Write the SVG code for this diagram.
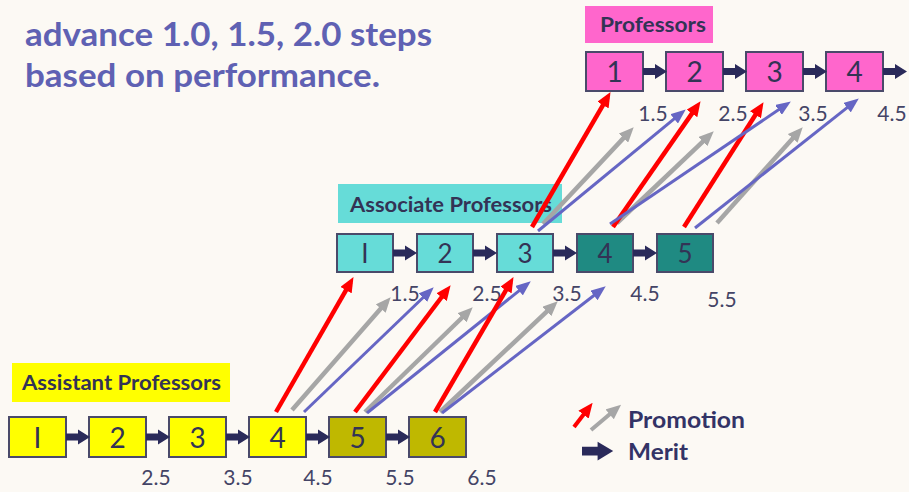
<svg xmlns="http://www.w3.org/2000/svg" width="909" height="492" viewBox="0 0 909 492">
<style>
.title{font-family:Lato,"Liberation Sans",sans-serif;font-weight:bold;font-size:33px;fill:#5f61b3}
.lbl{font-family:Lato,"Liberation Sans",sans-serif;font-weight:bold;font-size:20px;fill:#333355}
.box{stroke:#4a4a6a;stroke-width:2}
.num{font-family:Lato,"Liberation Sans",sans-serif;font-size:28px;fill:#333355;text-anchor:middle}
.num.m{font-size:26px}
.val{font-family:Lato,"Liberation Sans",sans-serif;font-size:21px;fill:#444466;text-anchor:middle}
.yel{fill:#ffff00}.oli{fill:#bfb800}.lt{fill:#66dcd8}.dt{fill:#1f8a82}.pk{fill:#ff66cc}
.red{stroke:#ff0000;stroke-width:4.5;fill:none;marker-end:url(#hr)}
.gry{stroke:#a6a6a6;stroke-width:4.5;fill:none;marker-end:url(#hg)}
.blu{stroke:#6666c4;stroke-width:3;fill:none;marker-end:url(#hb)}
.merit{fill:#2a2a5a}
.leg{font-family:Lato,"Liberation Sans",sans-serif;font-weight:bold;font-size:22px;fill:#333366}
</style>
<defs>
<marker id="hr" markerUnits="userSpaceOnUse" markerWidth="15" markerHeight="13" refX="9" refY="6.5" orient="auto"><path d="M0,0 L15,6.5 L0,13 Z" fill="#ff0000"/></marker>
<marker id="hg" markerUnits="userSpaceOnUse" markerWidth="15" markerHeight="13" refX="9" refY="6.5" orient="auto"><path d="M0,0 L15,6.5 L0,13 Z" fill="#a6a6a6"/></marker>
<marker id="hb" markerUnits="userSpaceOnUse" markerWidth="15" markerHeight="12" refX="9" refY="6" orient="auto"><path d="M0,0 L15,6 L0,12 Z" fill="#6666c4"/></marker>
<path id="ma" d="M0,-3.5 H12 V-7.5 L24,0 L12,7.5 V3.5 H0 Z"/>
</defs>
<rect width="909" height="492" fill="#fcf9f4"/>

<g id="title">
<text class="title" x="25" y="46" textLength="407" lengthAdjust="spacingAndGlyphs">advance 1.0, 1.5, 2.0 steps</text>
<text class="title" x="25" y="87" textLength="355" lengthAdjust="spacingAndGlyphs">based on performance.</text>
</g>

<g id="label-professors"><rect x="585" y="6" width="128" height="37" class="pk"/><text class="lbl" x="600" y="32" textLength="106" lengthAdjust="spacingAndGlyphs">Professors</text></g>
<g id="label-associate"><rect x="338" y="184" width="224" height="39" class="lt"/><text class="lbl" x="350" y="212" textLength="202" lengthAdjust="spacingAndGlyphs">Associate Professors</text></g>
<g id="label-assistant"><rect x="12" y="363" width="218" height="39" class="yel"/><text class="lbl" x="22" y="390" textLength="199" lengthAdjust="spacingAndGlyphs">Assistant Professors</text></g>

<!-- Professors row -->
<g id="p1"><rect x="586" y="52" width="57" height="39" class="box pk"/><text class="num" x="614.5" y="82">1</text></g>
<g id="p2"><rect x="666" y="52" width="57" height="39" class="box pk"/><text class="num" x="694.5" y="82">2</text></g>
<g id="p3"><rect x="746" y="52" width="57" height="39" class="box pk"/><text class="num" x="774.5" y="82">3</text></g>
<g id="p4"><rect x="826" y="52" width="57" height="39" class="box pk"/><text class="num" x="854.5" y="82">4</text></g>

<!-- Associate row -->
<g id="a1"><rect x="337" y="234" width="56" height="38" class="box lt"/><text class="num m" x="365" y="263">I</text></g>
<g id="a2"><rect x="417" y="234" width="56" height="38" class="box lt"/><text class="num m" x="445" y="263">2</text></g>
<g id="a3"><rect x="497" y="234" width="56" height="38" class="box lt"/><text class="num m" x="525" y="263">3</text></g>
<g id="a4"><rect x="577" y="234" width="56" height="38" class="box dt"/><text class="num m" x="605" y="263">4</text></g>
<g id="a5"><rect x="657" y="234" width="56" height="38" class="box dt"/><text class="num m" x="685" y="263">5</text></g>

<!-- Assistant row -->
<g id="s1"><rect x="9" y="417" width="57" height="40" class="box yel"/><text class="num" x="37.5" y="448">I</text></g>
<g id="s2"><rect x="89" y="417" width="57" height="40" class="box yel"/><text class="num" x="117.5" y="448">2</text></g>
<g id="s3"><rect x="169" y="417" width="57" height="40" class="box yel"/><text class="num" x="197.5" y="448">3</text></g>
<g id="s4"><rect x="249" y="417" width="57" height="40" class="box yel"/><text class="num" x="277.5" y="448">4</text></g>
<g id="s5"><rect x="329" y="417" width="57" height="40" class="box oli"/><text class="num" x="357.5" y="448">5</text></g>
<g id="s6"><rect x="409" y="417" width="57" height="40" class="box oli"/><text class="num" x="437.5" y="448">6</text></g>

<g id="values">
<text class="val" x="653" y="121">1.5</text><text class="val" x="733" y="121">2.5</text><text class="val" x="813" y="121">3.5</text><text class="val" x="892" y="121">4.5</text>
<text class="val" x="405" y="301">1.5</text><text class="val" x="487" y="301">2.5</text><text class="val" x="567" y="301">3.5</text><text class="val" x="645" y="301">4.5</text><text class="val" x="722" y="307">5.5</text>
<text class="val" x="156" y="485">2.5</text><text class="val" x="238" y="485">3.5</text><text class="val" x="318" y="485">4.5</text><text class="val" x="400" y="485">5.5</text><text class="val" x="482" y="485">6.5</text>
</g>

<g id="connectors">
<g class="merit">
<use href="#ma" x="643" y="71.5"/><use href="#ma" x="723" y="71.5"/><use href="#ma" x="803" y="71.5"/><use href="#ma" x="883" y="71.5"/>
<use href="#ma" x="393" y="253"/><use href="#ma" x="473" y="253"/><use href="#ma" x="553" y="253"/><use href="#ma" x="633" y="253"/>
<use href="#ma" x="66" y="437"/><use href="#ma" x="146" y="437"/><use href="#ma" x="226" y="437"/><use href="#ma" x="306" y="437"/><use href="#ma" x="386" y="437"/>
</g>
<!-- assistant to associate -->
<line class="gry" x1="292" y1="410" x2="386.7" y2="301.8"/>
<line class="gry" x1="365" y1="412" x2="468.4" y2="311.5"/>
<line class="gry" x1="440" y1="412" x2="553.4" y2="305.4"/>
<line class="blu" x1="304" y1="412" x2="429.4" y2="291.5"/>
<line class="blu" x1="367" y1="413" x2="526.1" y2="285.1"/>
<line class="blu" x1="442" y1="413" x2="601" y2="290"/>
<line class="red" x1="276" y1="412" x2="350.5" y2="282.3"/>
<line class="red" x1="355" y1="412" x2="447" y2="290"/>
<line class="red" x1="435" y1="412" x2="510.5" y2="282.3"/>
<!-- associate to professors -->
<line class="gry" x1="543" y1="224" x2="629.6" y2="131.6"/>
<line class="gry" x1="617" y1="223" x2="709.4" y2="135.4"/>
<line class="gry" x1="717" y1="223" x2="798.7" y2="131.7"/>
<line class="red" x1="532" y1="227" x2="607.5" y2="97.3"/>
<line class="red" x1="613" y1="227" x2="697.1" y2="106.1"/>
<line class="red" x1="684" y1="227" x2="760.3" y2="107.2"/>
<line class="blu" x1="538" y1="231" x2="681.1" y2="113.2"/>
<line class="blu" x1="610" y1="224" x2="785.9" y2="104.8"/>
<line class="blu" x1="695" y1="228" x2="854.1" y2="102.1"/>
</g>

<g id="legend">
<line class="red" x1="574" y1="427" x2="589" y2="407.5" style="stroke-width:4"/>
<line class="gry" x1="591" y1="430" x2="616.5" y2="408.5" style="stroke-width:4"/>
<text class="leg" x="628" y="428" textLength="117" lengthAdjust="spacingAndGlyphs">Promotion</text>
<use href="#ma" class="merit" transform="translate(582,451) scale(1.3,1.25)"/>
<text class="leg" x="628" y="460" textLength="60" lengthAdjust="spacingAndGlyphs">Merit</text>
</g>
</svg>
